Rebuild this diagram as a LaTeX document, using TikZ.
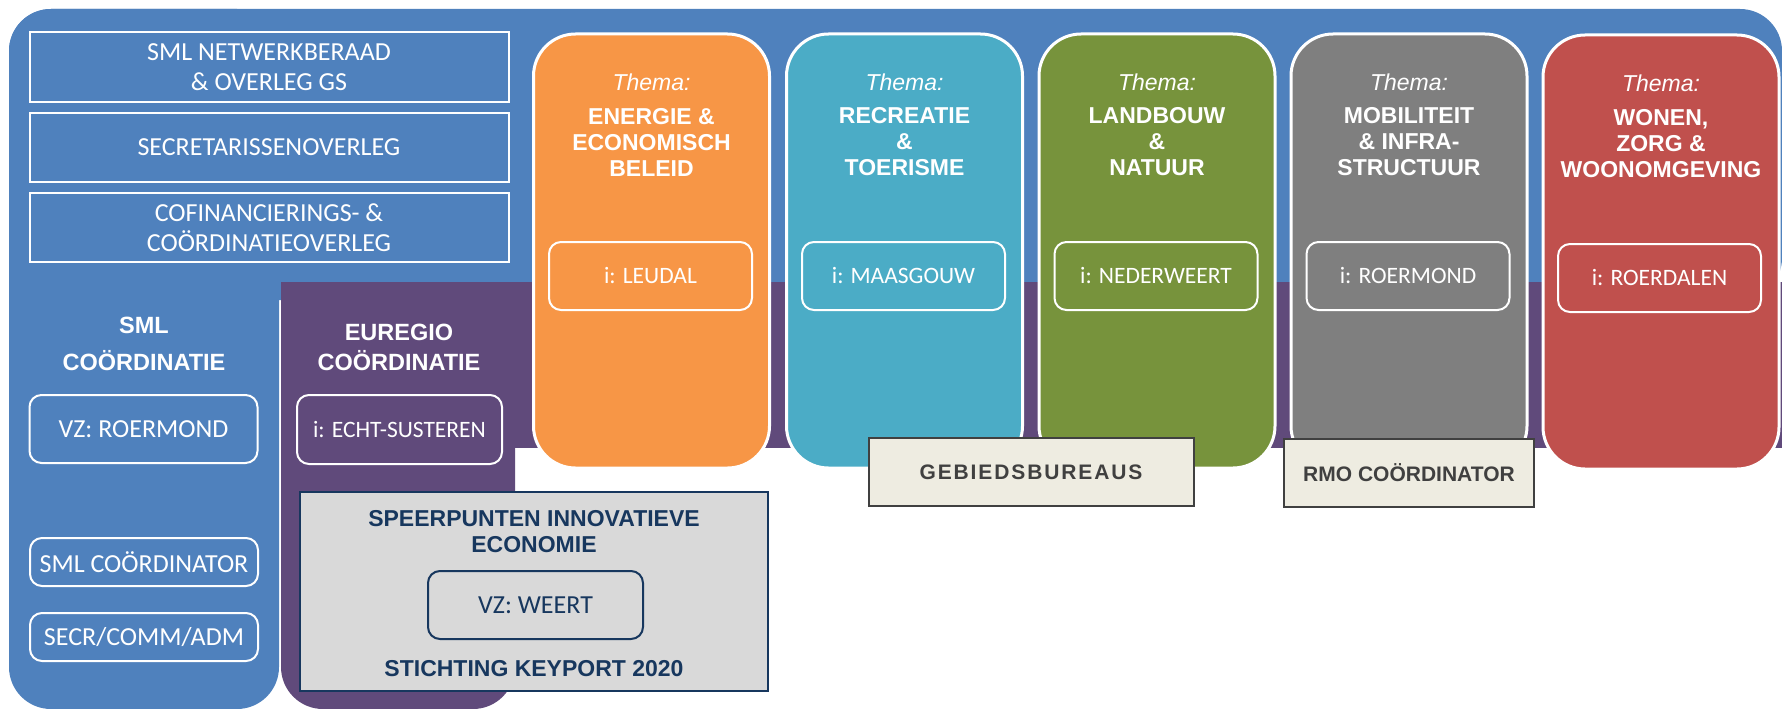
\documentclass[tikz,border=0pt]{standalone}
\usepackage{fontspec}
\setmainfont{Carlito}
\newfontfamily\headfont{Liberation Sans}
\newfontfamily\spacedfont[LetterSpace=9]{Liberation Sans}
\usetikzlibrary{positioning}

\definecolor{smlblue}{HTML}{4F81BD}
\definecolor{euregio}{HTML}{604A7B}
\definecolor{energie}{HTML}{F79646}
\definecolor{recreatie}{HTML}{4BACC6}
\definecolor{landbouw}{HTML}{77933C}
\definecolor{mobiliteit}{HTML}{7F7F7F}
\definecolor{wonen}{HTML}{C0504D}
\definecolor{navy}{HTML}{17375E}
\definecolor{keyfill}{HTML}{D9D9D9}
\definecolor{bureaufill}{HTML}{EEECE1}
\definecolor{bureauline}{HTML}{404040}

\tikzset{
	overleg/.style={draw=white, line width=2pt, inner sep=0pt, minimum width=479pt, minimum height=69pt,
		text=white, align=center, font=\fontsize{26}{29.5}\selectfont},
	wbox/.style={draw=white, line width=2pt, rounded corners=12pt, inner sep=0pt, text=white,
		font=\fontsize{26}{30}\selectfont},
	ibox/.style={wbox, minimum width=203pt, minimum height=68pt, font=\fontsize{23.5}{28}\selectfont},
	thema/.style={draw=white, line width=3pt, rounded corners=42pt, inner sep=0pt,
		minimum width=236pt, minimum height=434pt},
	themalabel/.style={text=white, inner sep=0pt, font=\headfont\itshape\fontsize{23}{26}\selectfont},
	themaname/.style={text=white, inner sep=0pt, align=center, font=\headfont\bfseries\fontsize{23}{26}\selectfont},
	bureau/.style={draw=bureauline, line width=2pt, fill=bureaufill, inner sep=0pt, minimum height=68pt,
		text=bureauline, font=\headfont\bfseries\fontsize{21}{24}\selectfont}
}

\begin{document}
\begin{tikzpicture}[x=1pt,y=-1pt]
	\useasboundingbox (0,0) rectangle (1782,709);
	\fill[smlblue, rounded corners=42pt] (9,9) rectangle (1782,300);
	\fill[smlblue, rounded corners=42pt] (9,9) rectangle (279,709);
	\fill[euregio] (281,282) rectangle (1782,448);
	\fill[euregio, rounded corners=42pt] (281,282) rectangle (515,709);

	\path (269,67) node (netwerk) [overleg] {SML NETWERKBERAAD\\\& OVERLEG GS}
		  (269,147.5) node (secretaris) [overleg] {SECRETARISSENOVERLEG}
		  (269,227.5) node (cofin) [overleg] {COFINANCIERINGS- \&\\CO\"ORDINATIEOVERLEG};

	\path (144,343.5) node (smlcoord) [themaname, font=\headfont\bfseries\fontsize{23.5}{37}\selectfont] {SML\\CO\"ORDINATIE}
		  (143.5,429) node (vzroermond) [wbox, minimum width=228pt, minimum height=68pt] {VZ: ROERMOND}
		  (144,562) node (coordinator) [wbox, minimum width=228pt, minimum height=48pt] {SML CO\"ORDINATOR}
		  (144,637) node (secrcomm) [wbox, minimum width=228pt, minimum height=48pt] {SECR/COMM/ADM};

	\path (399,347) node (euregiocoord) [themaname, font=\headfont\bfseries\fontsize{23.5}{30}\selectfont] {EUREGIO\\CO\"ORDINATIE}
		  (399.5,429.5) node (echt) [ibox, minimum width=205pt, minimum height=69pt] {i: ECHT-SUSTEREN};

	\path (651.5,251) node (energie) [thema, fill=energie] {}
		  (904.5,251) node (recreatie) [thema, fill=recreatie] {}
		  (1157,251) node (landbouw) [thema, fill=landbouw] {}
		  (1409,251) node (mobiliteit) [thema, fill=mobiliteit] {}
		  (1661,252) node (wonen) [thema, fill=wonen] {};

	\path (651.5,82) node (energiel) [themalabel] {Thema:}
		  (651.5,142) node (energien) [themaname] {ENERGIE \&\\ECONOMISCH\\BELEID}
		  (650.5,276) node (leudal) [ibox] {i: LEUDAL};
	\path (904.5,82) node (recreatiel) [themalabel] {Thema:}
		  (904.5,142) node (recreatien) [themaname] {RECREATIE\\\&\\TOERISME}
		  (903.5,276) node (maasgouw) [ibox] {i: MAASGOUW};
	\path (1157,82) node (landbouwl) [themalabel] {Thema:}
		  (1157,142) node (landbouwn) [themaname] {LANDBOUW\\\&\\NATUUR}
		  (1156,276) node (nederweert) [ibox] {i: NEDERWEERT};
	\path (1409,82) node (mobiliteitl) [themalabel] {Thema:}
		  (1409,142) node (mobiliteitn) [themaname] {MOBILITEIT\\\& INFRA-\\STRUCTUUR}
		  (1408,276) node (roermond) [ibox] {i: ROERMOND};
	\path (1661,83) node (wonenl) [themalabel] {Thema:}
		  (1661,143.5) node (wonenn) [themaname] {WONEN,\\ZORG \&\\WOONOMGEVING}
		  (1659.5,278) node (roerdalen) [ibox] {i: ROERDALEN};

	\path (1031,472) node (gebied) [bureau, minimum width=325pt, font=\spacedfont\bfseries\fontsize{21}{24}\selectfont] {GEBIEDSBUREAUS}
		  (1409,473) node (rmo) [bureau, minimum width=250pt] {RMO CO\"ORDINATOR};

	\path (534,591.5) node (keyport) [draw=navy, line width=1.5pt, fill=keyfill, minimum width=468pt, minimum height=199pt] {}
		  (534,532) node (speerpunten) [themaname, text=navy] {SPEERPUNTEN INNOVATIEVE\\ECONOMIE}
		  (535.5,605) node (vzweert) [wbox, draw=navy, text=navy, minimum width=215pt, minimum height=68pt] {VZ: WEERT}
		  (534,669) node (stichting) [themaname, text=navy] {STICHTING KEYPORT 2020};
\end{tikzpicture}
\end{document}
